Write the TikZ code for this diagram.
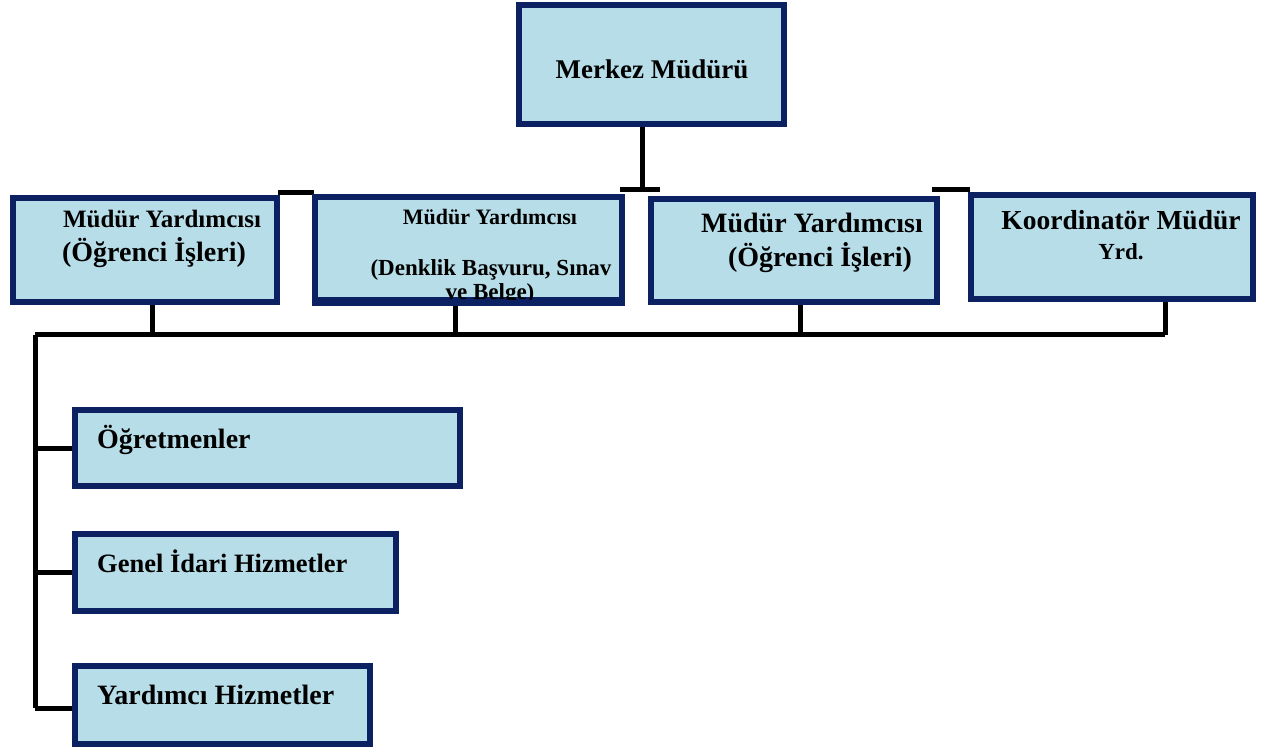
\documentclass[tikz,border=0pt]{standalone}
\usepackage{fontspec}
\setmainfont{Liberation Serif}
\usetikzlibrary{backgrounds,calc}
\definecolor{navy}{HTML}{0B2161}
\definecolor{boxfill}{HTML}{B7DDE8}
\begin{document}
\begin{tikzpicture}[x=1pt,y=-1pt,
  orgbox/.style={draw=navy,fill=boxfill,line width=6pt,inner sep=0pt,rectangle},
  conn/.style={draw=black,line width=5pt},
  fs/.style={font=\bfseries\fontsize{#1}{#1}\selectfont,inner sep=0pt,text=black}]
\useasboundingbox (0,0) rectangle (1270,751);
% boxes
\node[orgbox,minimum width=265pt,minimum height=119pt] (top) at (651.5,64.5) {};
\node[orgbox,minimum width=264pt,minimum height=104pt] (A) at (145,250) {};
\node[orgbox,minimum width=307pt,minimum height=103pt] (B) at (468.5,248.5) {};
\node[orgbox,minimum width=286pt,minimum height=103pt] (C) at (794,250.5) {};
\node[orgbox,minimum width=282pt,minimum height=104pt] (D) at (1112,247) {};
\node[orgbox,minimum width=385pt,minimum height=76pt] (O) at (267.5,448) {};
\node[orgbox,minimum width=321pt,minimum height=77pt] (G) at (235.5,572.5) {};
\node[orgbox,minimum width=295pt,minimum height=78pt] (Y) at (222.5,705) {};
% texts
\node[fs=27pt,anchor=base] (tTop) at (652,79) {Merkez Müdürü};
\node[fs=25pt,anchor=base] (tA1) at (162,228) {Müdür Yardımcısı};
\node[fs=28pt,anchor=base] (tA2) at (154,262) {(Öğrenci İşleri)};
\node[fs=22pt,anchor=base] (tB1) at (490,225) {Müdür Yardımcısı};
\node[fs=23pt,anchor=base] (tB2) at (491,276) {(Denklik Başvuru, Sınav};
\node[fs=23pt,anchor=base] (tB3) at (490,300) {ve Belge)};
\draw[navy,line width=6pt] (B.south west) -- (B.south east);
\node[fs=28pt,anchor=base] (tC1) at (812,233) {Müdür Yardımcısı};
\node[fs=28pt,anchor=base] (tC2) at (820,267) {(Öğrenci İşleri)};
\node[fs=27.5pt,anchor=base] (tD1) at (1121,230) {Koordinatör Müdür};
\node[fs=23pt,anchor=base] (tD2) at (1121,260) {Yrd.};
\node[fs=28pt,anchor=base west] (tO) at (97,448) {Öğretmenler};
\node[fs=26.5pt,anchor=base west] (tG) at (97,572) {Genel İdari Hizmetler};
\node[fs=28pt,anchor=base west] (tY) at (97,704) {Yardımcı Hizmetler};
% junction coordinates
\coordinate (jT) at (642,190);
\coordinate (sTL) at (620,190);
\coordinate (sTR) at (660,190);
\coordinate (sAB1) at (278,193);
\coordinate (sAB2) at (314,193);
\coordinate (sCD1) at (932,190);
\coordinate (sCD2) at (970,190);
\coordinate (busL) at (35,335);
\coordinate (busR) at (1165,335);
\coordinate (dA) at (152,335);
\coordinate (dB) at (455,335);
\coordinate (dC) at (800,335);
\coordinate (trunkEnd) at (35,708);
\begin{pgfonlayer}{background}
  \draw[conn] (top.south -| jT) -- (jT);
  \draw[conn] (sTL) -- (sTR);
  \draw[conn] (sAB1) -- (sAB2);
  \draw[conn] (sCD1) -- (sCD2);
  \draw[conn] (busL) -- (busR);
  \draw[conn] (A.south -| dA) -- (dA);
  \draw[conn] (B.south -| dB) -- (dB);
  \draw[conn] (C.south -| dC) -- (dC);
  \draw[conn] (D.south -| busR) -- (busR);
  \draw[conn] (busL) -- (trunkEnd);
  \draw[conn] (busL |- O.west) -- (O.west);
  \draw[conn] (busL |- G.west) -- (G.west);
  \draw[conn] (trunkEnd) -- (trunkEnd -| Y.west);
\end{pgfonlayer}
\end{tikzpicture}
\end{document}
